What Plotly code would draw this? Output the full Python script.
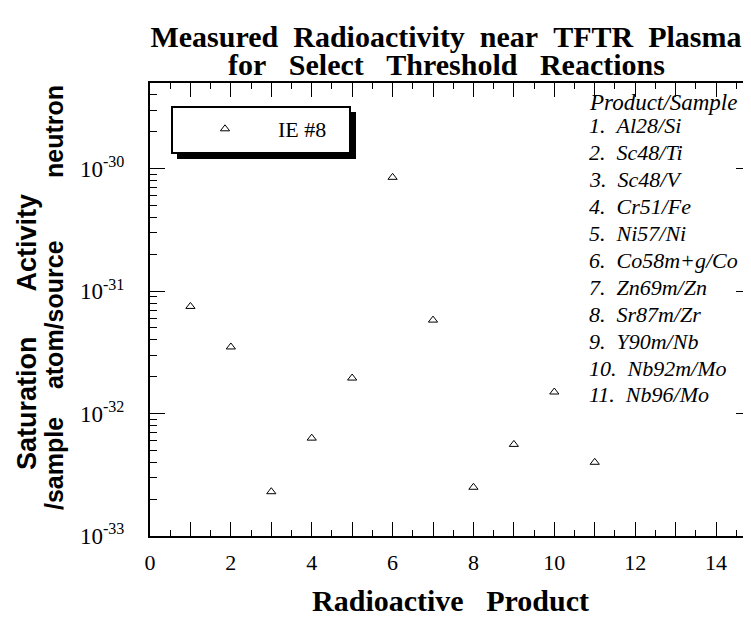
import plotly.graph_objects as go

# ---- data ----
product_index = [1, 2, 3, 4, 5, 6, 7, 8, 9, 10, 11]
activity = [7.5e-32, 3.5e-32, 2.3e-33, 6.3e-33, 1.95e-32, 8.5e-31, 5.8e-32,
            2.5e-33, 5.6e-33, 1.5e-32, 4.0e-33]
series_name = "IE #8"
products = ["Al28/Si", "Sc48/Ti", "Sc48/V", "Cr51/Fe", "Ni57/Ni", "Co58m+g/Co",
            "Zn69m/Zn", "Sr87m/Zr", "Y90m/Nb", "Nb92m/Mo", "Nb96/Mo"]
x_ticks = list(range(0, 16))
y_decades = [-33, -32, -31, -30]

# ---- layout geometry ----
# the page body has an 8px margin, so the figure starts at (8, 8) on screen
OFF = 8
W, H = 751 - OFF, 617 - OFF
SCR_L, SCR_T, SCR_B = 150, 83, 536          # plot edges, screen pixels
L, T = SCR_L - OFF, SCR_T - OFF
B = H - (SCR_B - OFF)
PW = W - L
PH = H - T - B
PX_PER_UNIT = 40.43

def px_x(p):
    return (p - SCR_L) / PW

def px_y(p):
    return (SCR_B - p) / PH

serif = "Liberation Serif"
sans = "Liberation Sans"
nb = "\u00a0"

fig = go.Figure()
fig.add_trace(go.Scatter(
    x=product_index, y=activity, mode="markers", name=series_name,
    marker=dict(symbol="triangle-up-open", size=8, color="black",
                line=dict(width=1, color="black")),
))

title_l1 = (nb * 2).join(["Measured", "Radioactivity", "near", "TFTR", "Plasma"])
title_l2 = (nb * 3).join(["for", "Select", "Threshold", "Reactions"])

fig.update_layout(
    width=W, height=H,
    margin=dict(l=L, r=0, t=T, b=B, autoexpand=False),
    paper_bgcolor="white", plot_bgcolor="white",
    font=dict(family=serif, color="black", size=20),
    title=dict(
        text="<b>" + title_l1 + "</b>",
        x=(446 - OFF) / W, xanchor="center", xref="container",
        y=1 - (36 - OFF) / H, yanchor="middle", yref="container",
        font=dict(family=serif, size=30, color="black"),
    ),
    showlegend=True,
    legend=dict(x=px_x(172), y=px_y(108), xanchor="left", yanchor="top",
                bgcolor="rgba(0,0,0,0)", borderwidth=0,
                itemwidth=96, font=dict(family=serif, size=22, color="black")),
    xaxis=dict(
        range=[0, PW / PX_PER_UNIT], showgrid=False, zeroline=False, automargin=False,
        showline=True, linecolor="black", linewidth=2, mirror="ticks",
        ticks="inside", ticklen=14, tickwidth=1, tickcolor="black",
        tickmode="array", tickvals=x_ticks,
        ticktext=[str(v) if v % 2 == 0 else "" for v in x_ticks],
        ticklabelstandoff=6,
        tickfont=dict(family=serif, size=22, color="black"),
        minor=dict(tickmode="array", tickvals=[v + 0.5 for v in x_ticks],
                   ticks="inside", ticklen=6, tickcolor="black", tickwidth=1),
        title=dict(text="<b>Radioactive" + nb * 3 + "Product</b>",
                   font=dict(family=serif, size=30, color="black"), standoff=20),
    ),
    yaxis=dict(
        type="log", range=[-33, -29.3], showgrid=False, zeroline=False, automargin=False,
        showline=True, linecolor="black", linewidth=2, mirror="ticks",
        ticks="inside", ticklen=15, tickwidth=1, tickcolor="black",
        tickmode="array", tickvals=[10.0 ** d for d in y_decades],
        ticktext=["10<sup>%d</sup>" % d for d in y_decades],
        ticklabelstandoff=19,
        tickfont=dict(family=serif, size=23, color="black"),
        minor=dict(tickmode="array",
                   tickvals=[m * 10.0 ** d for d in y_decades for m in range(2, 10)],
                   ticks="inside", ticklen=7, tickcolor="black", tickwidth=1),
    ),
)

# title second line
fig.add_annotation(text="<b>" + title_l2 + "</b>", xref="paper", yref="paper",
                   x=px_x(446), y=px_y(64), xanchor="center", yanchor="middle",
                   showarrow=False, font=dict(family=serif, size=30, color="black"))

# legend box with drop shadow
fig.add_shape(type="rect", xref="paper", yref="paper",
              x0=px_x(177), x1=px_x(356), y0=px_y(159), y1=px_y(112),
              fillcolor="black", line=dict(width=0), layer="above")
fig.add_shape(type="rect", xref="paper", yref="paper",
              x0=px_x(172), x1=px_x(350), y0=px_y(153), y1=px_y(107),
              fillcolor="white", line=dict(width=2, color="black"), layer="above")

# y-axis title (two lines)
fig.add_annotation(text="<b>Saturation" + nb * 6 + "Activity</b>",
                   xref="paper", yref="paper", x=px_x(27), y=px_y(332),
                   xanchor="center", yanchor="middle",
                   textangle=-90, showarrow=False,
                   font=dict(family=sans, size=27, color="black"))
fig.add_annotation(text="<b>/sample" + nb * 4 + "atom/source" + nb * 9 + "neutron</b>",
                   xref="paper", yref="paper", x=px_x(54), y=px_y(298),
                   xanchor="center", yanchor="middle",
                   textangle=-90, showarrow=False,
                   font=dict(family=sans, size=25, color="black"))

# product list
lines = ["Product/Sample"] + ["%d." % (i + 1) + nb + nb + p for i, p in enumerate(products)]
for i, txt in enumerate(lines):
    fig.add_annotation(text="<i>" + txt + "</i>",
                       xref="paper", yref="paper", x=px_x(587),
                       y=px_y(102 + i * 26.9 - (0 if i == 0 else 3)),
                       xanchor="left", yanchor="middle", align="left", showarrow=False,
                       font=dict(family=serif, size=22 if i else 23, color="black"))

fig.write_html("out.html")
